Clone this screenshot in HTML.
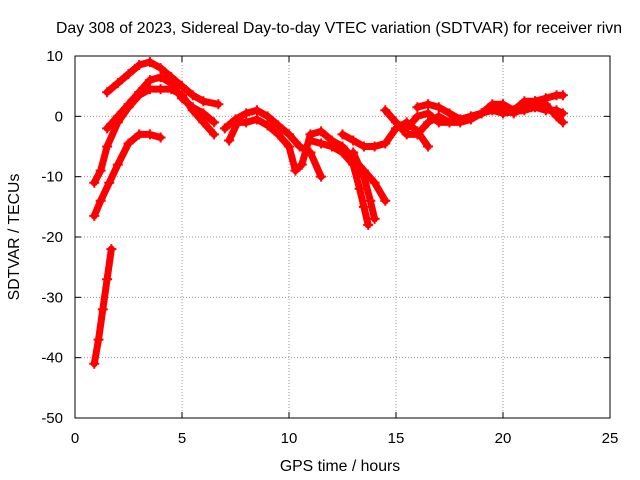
<!DOCTYPE html>
<html><head><meta charset="utf-8"><style>
html,body{margin:0;padding:0;background:#fff;}
svg{display:block;font-family:"Liberation Sans",sans-serif;}
</style></head><body>
<svg id="chart" width="640" height="480">
<rect width="640" height="480" fill="#fff"/>
<g id="grid"></g>
<g id="axes"></g>
<g id="series"></g>
<text x="339" y="33" text-anchor="middle" font-size="15.8">Day 308 of 2023, Sidereal Day-to-day VTEC variation (SDTVAR) for receiver rivn</text>
<text x="340" y="471" text-anchor="middle" font-size="15.8">GPS time / hours</text>
<text transform="translate(19,237) rotate(-90)" text-anchor="middle" font-size="15.8">SDTVAR / TECUs</text>
</svg>
<script>
const xTicks=[0,5,10,15,20,25];
const yTicks=[10,0,-10,-20,-30,-40,-50];
const s1x=[0.9,1.1,1.3,1.5,1.7];
const s1y=[-41,-37,-32,-27,-22];
const s2x=[1.5,2,2.5,3,3.5,4,4.5,5,5.5,6,6.7];
const s2y=[4,5.5,7,8.5,9,8,6.5,5,3.5,2.5,2];
const s3x=[0.9,1.2,1.5,2,2.5,3,3.5,4,4.5,5,5.5,6,6.5];
const s3y=[-11,-9,-5,-1,1.5,3.5,4.5,4.5,4.5,3.5,1,-1,-3];
const s4x=[1.5,2,2.5,3,3.5,4,4.5,5,5.5,6,6.5];
const s4y=[-2,0,2,4,6,6.5,5.5,3,1.5,0.5,-1];
const s5x=[0.9,1.2,1.6,2,2.5,3,3.5,4];
const s5y=[-16.5,-14,-11,-8,-4.5,-3,-3,-3.5];
const s6x=[7,7.5,8,8.5,9,9.5,10,10.5,11,11.5];
const s6y=[-2,-0.5,0.5,1,0,-1.5,-3,-5,-6,-10];
const s7x=[7.2,7.6,8,8.5,9,9.5,10,10.3,10.6,11,11.5,12,12.5,13,13.5,14,14.5];
const s7y=[-4,-1,-1,-0.5,-1.5,-3,-5,-9,-8,-3,-2.5,-4,-5,-7,-9,-11,-14];
const s8x=[11,11.5,12,12.5,13,13.3,13.5,13.7];
const s8y=[-4,-4.5,-5,-6,-8,-12,-15,-18];
const s9x=[12.5,13,13.5,14,14.5,15,15.5,16,16.5];
const s9y=[-3,-4,-5,-5,-4.5,-2,-1,-2.5,-5];
const s10x=[13,13.5,13.8,14];
const s10y=[-6,-10,-14,-17];
const s11x=[14.5,15,15.5,16,16.5,17,17.5,18,18.5,19,19.5,20,20.5,21,21.5,22,22.5,22.8];
const s11y=[1,-1,-3,-3,-1,0,-1,-1,-0.5,0.5,1.5,1.5,0.5,1.5,2.5,2,0,-1];
const s12x=[16,16.5,17,17.5,18,19,19.5,20,20.5,21,21.5,22,22.5,22.8];
const s12y=[1.5,2,1.5,0.5,-0.5,0.5,2,2,1,2.5,2.5,3,3.5,3.5];
const s13x=[15.5,16,16.5,17,17.5,18.5,19.5,20,21,21.5,22,22.5,22.8];
const s13y=[-2,0,0.5,-1,-1,0,1,0.5,1,1.5,1,1,0.5];
const seriesX=[s1x,s2x,s3x,s4x,s5x,s6x,s7x,s8x,s9x,s10x,s11x,s12x,s13x];
const seriesY=[s1y,s2y,s3y,s4y,s5y,s6y,s7y,s8y,s9y,s10y,s11y,s12y,s13y];

const L=75,R=610,T=56,B=418;
const xS=v=>L+(v-0)/25*(R-L);
const yS=v=>T+(10-v)/60*(B-T);
const NS="http://www.w3.org/2000/svg";
function mk(tag,attrs,parent){const e=document.createElementNS(NS,tag);for(const k in attrs)e.setAttribute(k,attrs[k]);parent.appendChild(e);return e;}
const grid=document.getElementById('grid'),axes=document.getElementById('axes'),ser=document.getElementById('series');
xTicks.forEach(t=>{
  const x=xS(t);
  if(t>0&&t<25){const g=mk('line',{x1:x,x2:x,y1:T,y2:B,stroke:'#999','stroke-dasharray':'1,2','stroke-width':1},grid);
  
  }
  mk('line',{x1:x,x2:x,y1:B,y2:B-6,stroke:'#000'},axes);
  mk('line',{x1:x,x2:x,y1:T,y2:T+6,stroke:'#000'},axes);
  const tx=mk('text',{x:x,y:B+25,'text-anchor':'middle','font-size':15},axes);
  tx.textContent=t;
  
  
});
yTicks.forEach(t=>{
  const y=yS(t);
  if(t<10&&t>-50){const g=mk('line',{x1:L,x2:R,y1:y,y2:y,stroke:'#999','stroke-dasharray':'1,2','stroke-width':1},grid);
  
  }
  mk('line',{x1:L,x2:L+6,y1:y,y2:y,stroke:'#000'},axes);
  mk('line',{x1:R,x2:R-6,y1:y,y2:y,stroke:'#000'},axes);
  const tx=mk('text',{x:L-12,y:y+5,'text-anchor':'end','font-size':15},axes);
  tx.textContent=t;
  
  
});
const fr=mk('rect',{x:L,y:T,width:R-L,height:B-T,fill:'none',stroke:'#000'},axes);


seriesX.forEach((xs,i)=>{
  const ys=seriesY[i];
  const pts=xs.map((x,j)=>xS(x)+','+yS(ys[j])).join(' ');
  const pl=mk('polyline',{points:pts,fill:'none',stroke:'#f00','stroke-width':7,'stroke-linejoin':'round','stroke-linecap':'round'},ser);
  
  
  xs.forEach((x,j)=>{
    const px=xS(x),py=yS(ys[j]);
    const p=mk('path',{d:`M${px-5},${py}H${px+5}M${px},${py-5}V${py+5}`,stroke:'#f00','stroke-width':2},ser);
    
    
  });
});
</script>
</body></html>
